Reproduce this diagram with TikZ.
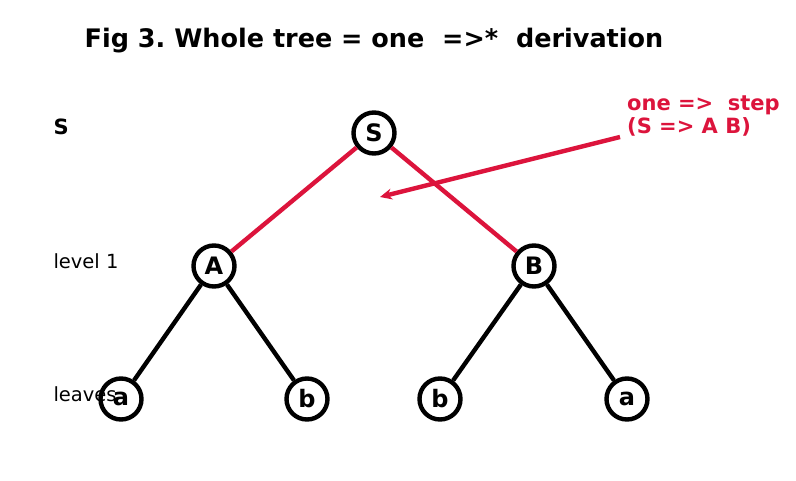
\documentclass[tikz,border=0pt]{standalone}
\usepackage{fontspec}
\setmainfont{DejaVu Sans}
\usepackage{xcolor}
\usetikzlibrary{calc, positioning, arrows.meta}
\definecolor{crim}{HTML}{DC143C}
\frenchspacing

\begin{document}
\begin{tikzpicture}[x=1pt, y=-1pt,
  vtx/.style={draw, circle, line width=4.4pt, fill=white, minimum size=41pt, inner sep=0pt, font=\fontsize{24}{28}\selectfont\bfseries},
  lvl/.style={anchor=west, font=\fontsize{19.5}{23}\selectfont},
  edge/.style={line width=4.4pt}]
\useasboundingbox (0,0) rectangle (796,480);
\node[font=\fontsize{25.5}{30}\selectfont\bfseries] (title) at (374,41) {Fig 3. Whole tree = one \ =>* \ derivation};
\node[vtx] (S) at (374,133) {S};
\node[vtx] (A) at (214,266) {A};
\node[vtx] (B) at (534,266) {B};
\node[vtx] (a1) at (121,399) {a};
\node[vtx] (b1) at (307,399) {b};
\node[vtx] (b2) at (440,399) {b};
\node[vtx] (a2) at (627,399) {a};
\draw[edge, crim] (S) -- (A);
\draw[edge, crim] (S) -- (B);
\draw[edge] (A) -- (a1);
\draw[edge] (A) -- (b1);
\draw[edge] (B) -- (b2);
\draw[edge] (B) -- (a2);
\node[lvl, font=\fontsize{21}{24}\selectfont\bfseries] (lS) at (50,127) {S};
\node[lvl] (l1) at (50,261) {level 1};
\node[lvl] (l2) at (50,394) {leaves};
\node[anchor=north west, align=left, text=crim, inner sep=0pt,
  font=\fontsize{21}{23}\selectfont\bfseries] (note) at (627,96) {one => \ step\\(S => A B)};
\coordinate (tip) at (380,197);
\draw[crim, line width=4.4pt, -{Stealth[length=12pt, width=11pt]}] (620,137) -- (tip);
\end{tikzpicture}
\end{document}
